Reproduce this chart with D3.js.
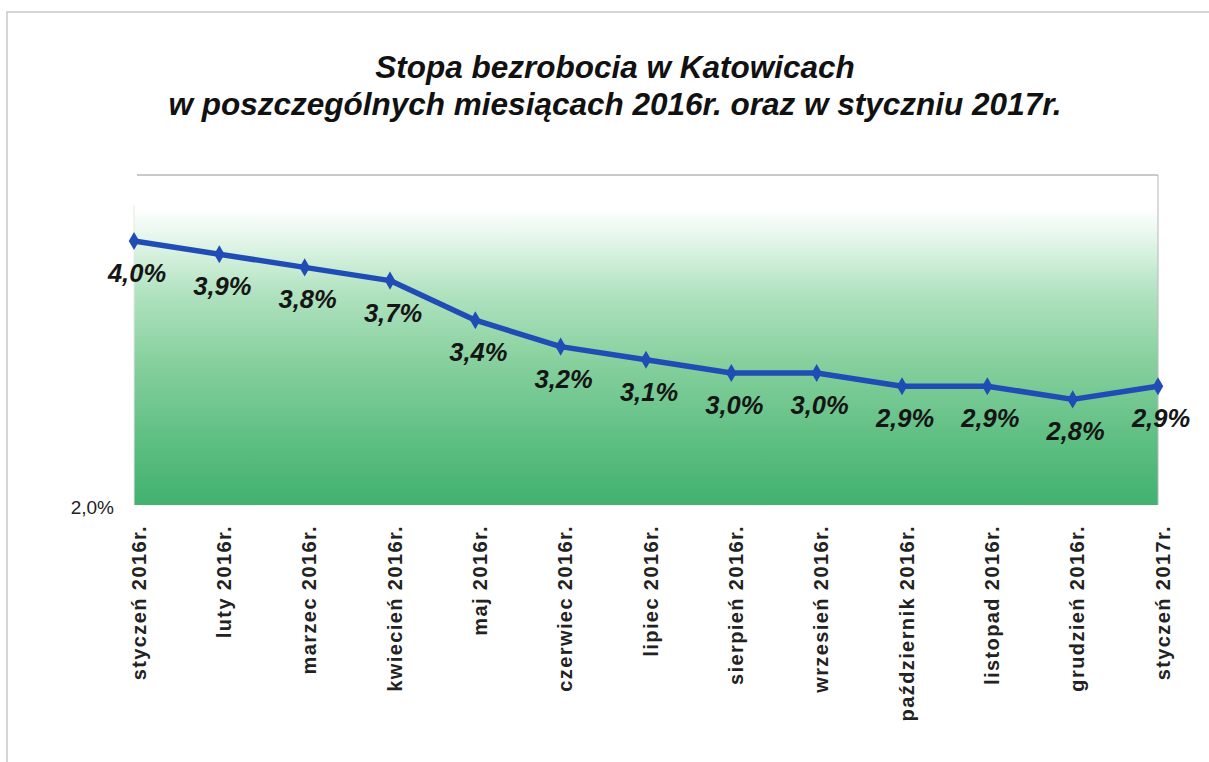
<!DOCTYPE html>
<html>
<head>
<meta charset="utf-8">
<script src="https://cdn.jsdelivr.net/npm/d3@7"></script>
<style>
  html, body { margin: 0; padding: 0; background: #fff; }
  svg { display: block; }
  text { font-family: "Liberation Sans", Arial, sans-serif; }
</style>
</head>
<body>
<svg id="chart" width="1209" height="762"></svg>
<script>
const titleLines = ["Stopa bezrobocia w Katowicach", "w poszczególnych miesiącach 2016r. oraz w styczniu 2017r."];
const months = ["styczeń 2016r.", "luty 2016r.", "marzec 2016r.", "kwiecień 2016r.", "maj 2016r.", "czerwiec 2016r.", "lipiec 2016r.", "sierpień 2016r.", "wrzesień 2016r.", "październik 2016r.", "listopad 2016r.", "grudzień 2016r.", "styczeń 2017r."];
const rates = [4.0, 3.9, 3.8, 3.7, 3.4, 3.2, 3.1, 3.0, 3.0, 2.9, 2.9, 2.8, 2.9];
const yDomain = [2.0, 4.5];
const yTickValues = [2.0];

const svg = d3.select("#chart");
const plot = { left: 134, right: 1158, top: 175, bottom: 505 };

const x = d3.scalePoint().domain(months).range([plot.left, plot.right]);
const y = d3.scaleLinear().domain(yDomain).range([plot.bottom, plot.top]);
const fmt = v => d3.format(".1f")(v).replace(".", ",") + "%";

// outer frame
svg.append("rect").attr("x", 7).attr("y", 12).attr("width", 1210).attr("height", 760)
  .attr("fill", "none").attr("stroke", "#c8c8c8").attr("stroke-width", 1.5);

// gradient
const defs = svg.append("defs");
const grad = defs.append("linearGradient").attr("id", "bg").attr("x1", 0).attr("y1", 0).attr("x2", 0).attr("y2", 1);
[[0, "#ffffff"], [0.1, "#ffffff"], [0.2, "#e2f5e8"], [0.36, "#b0e2bf"], [0.58, "#84cf9c"], [0.8, "#5fbf83"], [1, "#42b170"]]
  .forEach(([o, c]) => grad.append("stop").attr("offset", o).attr("stop-color", c));

svg.append("rect").attr("x", plot.left).attr("y", plot.top)
  .attr("width", plot.right - plot.left).attr("height", plot.bottom - plot.top)
  .attr("fill", "url(#bg)");

// plot borders
svg.append("line").attr("x1", plot.left + 3).attr("x2", plot.right).attr("y1", plot.top).attr("y2", plot.top)
  .attr("stroke", "#c9c9c9").attr("stroke-width", 2);
svg.append("line").attr("x1", plot.right).attr("x2", plot.right).attr("y1", plot.top).attr("y2", plot.bottom)
  .attr("stroke", "#b8b8b8").attr("stroke-width", 1);
svg.append("line").attr("x1", plot.left).attr("x2", plot.left).attr("y1", plot.top + 30).attr("y2", plot.bottom)
  .attr("stroke", "#e6e6e6").attr("stroke-width", 1);

// title
svg.append("g").selectAll("text").data(titleLines).join("text")
  .attr("x", 615).attr("y", (d, i) => 78 + i * 37)
  .attr("text-anchor", "middle")
  .attr("font-size", 31.5).attr("font-weight", "bold").attr("font-style", "italic")
  .attr("fill", "#111").text(d => d);

// y axis
const yAxis = d3.axisLeft(y).tickValues(yTickValues).tickSize(0).tickPadding(20).tickFormat(fmt);
const gy = svg.append("g").attr("transform", `translate(${plot.left},0)`).call(yAxis);
gy.select(".domain").remove();
gy.selectAll("text").attr("font-size", 19).attr("fill", "#222")
  .attr("font-family", "'Liberation Sans', Arial, sans-serif").attr("dy", "0.45em");

// x axis
const xAxis = d3.axisBottom(x).tickSize(0).tickPadding(0);
const gx = svg.append("g").attr("transform", `translate(0,${plot.bottom})`).call(xAxis);
gx.select(".domain").remove();
gx.selectAll("text")
  .attr("transform", "rotate(-90)")
  .attr("text-anchor", "end")
  .attr("x", -20).attr("y", 4).attr("dy", "0.35em")
  .attr("font-size", 20).attr("font-weight", "bold").attr("letter-spacing", "1.4px")
  .attr("font-family", "'Liberation Sans', Arial, sans-serif")
  .attr("fill", "#222");

// line
const line = d3.line().x((d, i) => x(months[i])).y(d => y(d));
svg.append("path").datum(rates).attr("d", line)
  .attr("fill", "none").attr("stroke", "#1f4cb5").attr("stroke-width", 5.5).attr("stroke-linejoin", "round");

// markers
svg.append("g").selectAll("path").data(rates).join("path")
  .attr("transform", (d, i) => `translate(${x(months[i])},${y(d)})`)
  .attr("d", d3.symbol(d3.symbolDiamond, 95))
  .attr("fill", "#1f4cb5");

// data labels
svg.append("g").selectAll("text").data(rates).join("text")
  .attr("x", (d, i) => x(months[i]) + 3)
  .attr("y", d => y(d) + 41)
  .attr("text-anchor", "middle")
  .attr("font-size", 25.5).attr("font-weight", "bold").attr("font-style", "italic")
  .attr("fill", "#151515")
  .text(d => fmt(d));
</script>
</body>
</html>
